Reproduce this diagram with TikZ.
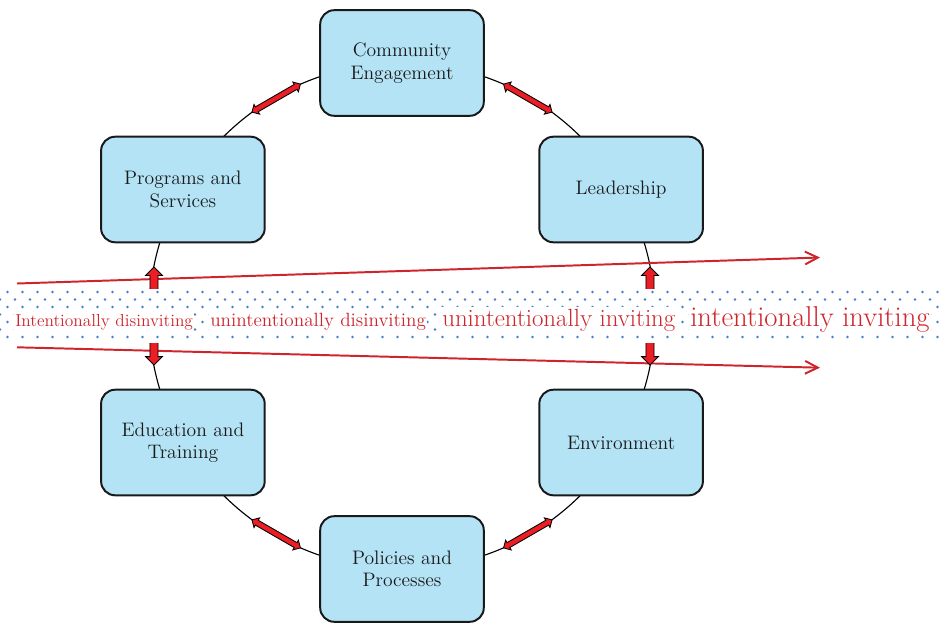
\documentclass[tikz,border=0pt]{standalone}
\usepackage{fontspec}
\usetikzlibrary{arrows.meta,shapes.arrows,calc}
\definecolor{sky}{RGB}{180,227,246}
\definecolor{brick}{RGB}{206,36,44}
\definecolor{signal}{RGB}{234,30,36}
\definecolor{dotblue}{RGB}{66,124,210}
\definecolor{ink}{RGB}{25,25,25}
\tikzset{
  box/.style={draw=ink,fill=sky,rounded corners=10pt,line width=1.4pt,
    minimum width=4.09cm,minimum height=2.64cm,align=center,text=ink,
    font=\fontsize{13.9}{16}\selectfont},
  link/.style={double arrow,draw=black,fill=signal,line width=0.6pt,
    inner xsep=0pt,inner ysep=0.06cm,minimum height=#1,double arrow head extend=0.07cm},
  link/.default=1.4cm,
  wide link/.style={link=#1,inner ysep=0.09cm,double arrow head extend=0.11cm},
  trend/.style={draw=brick,line width=1.4pt,-{Straight Barb[length=3.2mm,width=3.2mm]}},
  tag/.style={text=brick,fill=white,inner sep=1pt,anchor=base west},
}

\begin{document}
\begin{tikzpicture}
  \useasboundingbox (0,0) rectangle (23.5,15.575);
  \coordinate (o) at (10.05,7.675);
  \draw[line width=0.8pt] (o) circle (6.325);
  % the six areas round the ring
  \node[box] (comm) at ($(o)+(90:6.325)$) {Community\\Engagement};
  \node[box] (lead) at ($(o)+(30:6.325)$) {Leadership};
  \node[box] (env) at ($(o)+(-30:6.325)$) {Environment};
  \node[box] (pol) at ($(o)+(-90:6.325)$) {Policies and\\Processes};
  \node[box] (edu) at ($(o)+(210:6.325)$) {Education and\\Training};
  \node[box] (prog) at ($(o)+(150:6.325)$) {Programs and\\Services};
  % drift lines
  \coordinate (up start) at (0.425,8.4875);
  \coordinate (up end) at (20.5,9.1375);
  \coordinate (dn start) at (0.425,6.8925);
  \coordinate (dn end) at (20.5,6.3825);
  \draw[trend] (up start) -- (up end);
  \draw[trend] (dn start) -- (dn end);
  % two-way links
  \foreach \a in {60,120,240,300}
    \node[link,rotate=\a+90] (link\a) at ($(o)+(\a:6.29)$) {};
  \foreach \a in {0,180}
    \node[wide link=2.45cm,rotate=90] (link\a) at ($(o)+(\a:6.2)$) {};
  % dotted band
  \fill[white] (0,7.0) rectangle (23.5,8.35);
  \foreach \y in {8.275,7.9,7.525,7.15}
    \foreach \x in {0.1875,0.5625,...,23.5}
      \fill[dotblue] (\x,\y) circle (0.035);
  \foreach \y in {8.0875,7.7125,7.3375}
    \foreach \x in {0,0.375,...,23.5}
      \fill[dotblue] (\x,\y) circle (0.035);
  \node[tag,font=\fontsize{12.35}{14}\selectfont] (t1) at (0.34,7.425) {Intentionally disinviting};
  \node[tag,font=\fontsize{13.65}{15}\selectfont] (t2) at (5.215,7.425) {unintentionally disinviting};
  \node[tag,font=\fontsize{17.7}{19}\selectfont] (t3) at (11.015,7.425) {unintentionally inviting};
  \node[tag,font=\fontsize{20.4}{22}\selectfont] (t4) at (17.215,7.425) {intentionally inviting};
\end{tikzpicture}
\end{document}
